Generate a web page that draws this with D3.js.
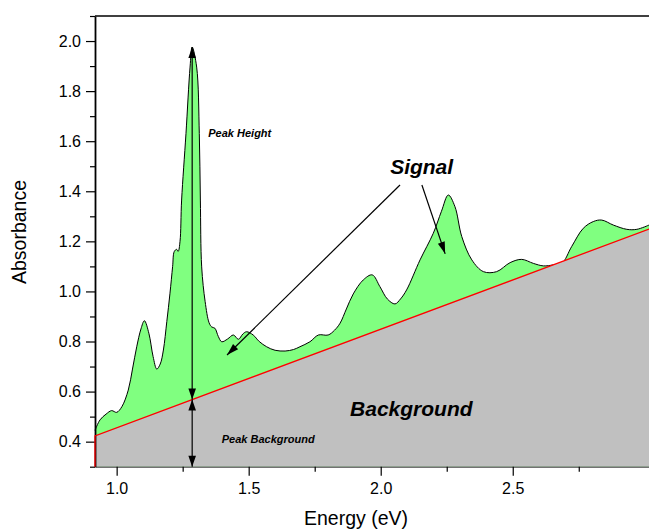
<!DOCTYPE html>
<html><head><meta charset="utf-8">
<script src="https://cdn.jsdelivr.net/npm/d3@7"></script>
<style>
body{margin:0;background:#fff}
svg{display:block}
text{font-family:"Liberation Sans",Arial,Helvetica,sans-serif}
</style>
</head><body><svg id="c" width="649" height="531"></svg>
<script>
// ---- data ----
const energy = [0.918,0.937,0.960,0.981,1.000,1.020,1.044,1.060,1.076,1.092,1.105,1.122,1.138,1.152,1.165,1.177,1.190,1.202,1.212,1.218,1.227,1.233,1.240,1.246,1.2625,1.278,1.286,1.303,1.313,1.317,1.322,1.335,1.350,1.360,1.372,1.385,1.398,1.420,1.442,1.461,1.478,1.492,1.517,1.540,1.568,1.600,1.638,1.670,1.694,1.732,1.764,1.801,1.825,1.846,1.870,1.896,1.934,1.968,1.997,2.025,2.054,2.075,2.098,2.149,2.199,2.230,2.256,2.281,2.307,2.345,2.389,2.439,2.490,2.534,2.578,2.616,2.654,2.686,2.723,2.767,2.805,2.837,2.881,2.932,2.970,3.016];
const absorbance = [0.445,0.487,0.510,0.524,0.517,0.540,0.606,0.690,0.779,0.850,0.883,0.833,0.740,0.690,0.710,0.766,0.880,0.993,1.100,1.159,1.168,1.160,1.200,1.365,1.630,1.896,1.976,1.896,1.630,1.365,1.098,0.960,0.875,0.858,0.853,0.820,0.799,0.810,0.826,0.809,0.830,0.839,0.826,0.800,0.779,0.765,0.762,0.768,0.779,0.799,0.826,0.826,0.845,0.873,0.930,0.990,1.046,1.066,1.019,0.970,0.950,0.970,1.006,1.126,1.232,1.320,1.385,1.339,1.219,1.126,1.079,1.079,1.115,1.128,1.112,1.102,1.106,1.112,1.179,1.252,1.279,1.285,1.265,1.248,1.248,1.265];
const backgroundEnergy = [0.918, 3.016];
const backgroundAbs = [0.423, 1.249];
const xDomain = [0.918, 3.016];
const yDomain = [0.3, 2.1];
const xMajorTicks = [1.0, 1.5, 2.0, 2.5];
const xMinorTicks = [1.25, 1.75, 2.25, 2.75];
const yMajorTicks = [0.4, 0.6, 0.8, 1.0, 1.2, 1.4, 1.6, 1.8, 2.0];
const yMinorTicks = [0.3, 0.5, 0.7, 0.9, 1.1, 1.3, 1.5, 1.7, 1.9, 2.1];
const xTitle = "Energy (eV)";
const yTitle = "Absorbance";
// annotations in data coordinates
const peakEnergy = 1.286, peakAbs = 1.976;
const signalArrows = [ {from:[2.073,1.425], to:[1.418,0.746]}, {from:[2.156,1.425], to:[2.244,1.150]} ];
const labels = [
  {text:"Signal", at:[2.155,1.468], size:21, anchor:"middle"},
  {text:"Background", at:[1.884,0.503], size:21, anchor:"start"},
  {text:"Peak Height", at:[1.347,1.617], size:11, anchor:"start"},
  {text:"Peak Background", at:[1.398,0.394], size:11, anchor:"start"}
];

// ---- layout ----
const L = 95, R = 649, T = 16, B = 466.7;
const svg = d3.select("#c");
const x = d3.scaleLinear().domain(xDomain).range([L, R]);
const y = d3.scaleLinear().domain(yDomain).range([B, T]);
const pts = energy.map((e,i)=>[e, absorbance[i]]);
const bgPts = backgroundEnergy.map((e,i)=>[e, backgroundAbs[i]]);
const bgAt = e => backgroundAbs[0] + (backgroundAbs[1]-backgroundAbs[0])*(e-backgroundEnergy[0])/(backgroundEnergy[1]-backgroundEnergy[0]);

const curve = d3.curveCatmullRom.alpha(0.5);
// green signal area
svg.append("path").datum(pts)
  .attr("d", d3.area().x(d=>x(d[0])).y0(y(yDomain[0])).y1(d=>y(d[1])).curve(curve))
  .attr("fill", "#80ff80");
svg.append("path").datum(pts)
  .attr("d", d3.line().x(d=>x(d[0])).y(d=>y(d[1])).curve(curve))
  .attr("fill", "none").attr("stroke", "#000").attr("stroke-width", 1);
// gray background
svg.append("path").datum(bgPts)
  .attr("d", d3.area().x(d=>x(d[0])).y0(y(yDomain[0])).y1(d=>y(d[1])))
  .attr("fill", "#c0c0c0");

// axes
const fmt = d3.format(".1f");
const gx = svg.append("g").attr("transform", `translate(0,${B})`)
  .call(d3.axisBottom(x).tickValues(xMajorTicks).tickFormat(fmt).tickSize(9).tickSizeOuter(0).tickPadding(7));
svg.append("g").attr("transform", `translate(0,${B})`)
  .call(d3.axisBottom(x).tickValues(xMinorTicks).tickFormat("").tickSize(5).tickSizeOuter(0))
  .select(".domain").remove();
const gy = svg.append("g").attr("transform", `translate(${L},0)`)
  .call(d3.axisLeft(y).tickValues(yMajorTicks).tickFormat(fmt).tickSize(9).tickSizeOuter(0).tickPadding(5));
svg.append("g").attr("transform", `translate(${L},0)`)
  .call(d3.axisLeft(y).tickValues(yMinorTicks).tickFormat("").tickSize(5).tickSizeOuter(0))
  .select(".domain").remove();
svg.selectAll(".tick text").attr("font-size", 16).attr("fill", "#000")
  .attr("font-family", '"Liberation Sans",Arial,sans-serif');
svg.selectAll(".tick line").attr("stroke", "#000").attr("stroke-width", 1.2);
gy.select(".domain").attr("stroke-width", 1.8);
gx.select(".domain").attr("stroke", "#333");
// top frame
svg.append("line").attr("x1", L).attr("x2", R).attr("y1", T).attr("y2", T)
  .attr("stroke", "#000").attr("stroke-width", 1.5);

// red background line (with left edge)
svg.append("path")
  .attr("d", d3.line()([[x(backgroundEnergy[0]), y(yDomain[0])], ...bgPts.map(d=>[x(d[0]), y(d[1])])]))
  .attr("fill", "none").attr("stroke", "#ff0000").attr("stroke-width", 1.3);

// axis titles
svg.append("text").attr("x", (L + 617)/2 ).attr("y", 525).attr("text-anchor", "middle")
  .attr("font-size", 19.5).text(xTitle);
svg.append("text").attr("transform", "translate(26,232) rotate(-90)").attr("text-anchor", "middle")
  .attr("font-size", 19.5).text(yTitle);

// arrows
function head(tip, from, len, hw){
  const dx = tip[0]-from[0], dy = tip[1]-from[1], d = Math.hypot(dx,dy);
  const ux = dx/d, uy = dy/d, bx = tip[0]-ux*len, by = tip[1]-uy*len;
  svg.append("path").attr("d", `M${tip[0]},${tip[1]}L${bx - uy*hw},${by + ux*hw}L${bx + uy*hw},${by - ux*hw}Z`)
    .attr("fill", "#000");
}
function arrow(a, b, heads, len, hw){
  svg.append("line").attr("x1", a[0]).attr("y1", a[1]).attr("x2", b[0]).attr("y2", b[1])
    .attr("stroke", "#000").attr("stroke-width", 1.2);
  if (heads.includes("end")) head(b, a, len, hw);
  if (heads.includes("start")) head(a, b, len, hw);
}
const px = x(peakEnergy);
arrow([px, y(peakAbs)], [px, y(bgAt(peakEnergy))], ["start","end"], 11, 3.8);
arrow([px, y(bgAt(peakEnergy))], [px, y(yDomain[0])], ["start","end"], 11, 3.8);
signalArrows.forEach(s => arrow([x(s.from[0]), y(s.from[1])], [x(s.to[0]), y(s.to[1])], ["end"], 12, 3.6));

// labels
labels.forEach(l => svg.append("text").attr("x", x(l.at[0])).attr("y", y(l.at[1]))
  .attr("text-anchor", l.anchor).attr("font-size", l.size).attr("font-weight", "bold")
  .attr("font-style", "italic").attr("fill", "#000").text(l.text));
</script>
</body></html>
